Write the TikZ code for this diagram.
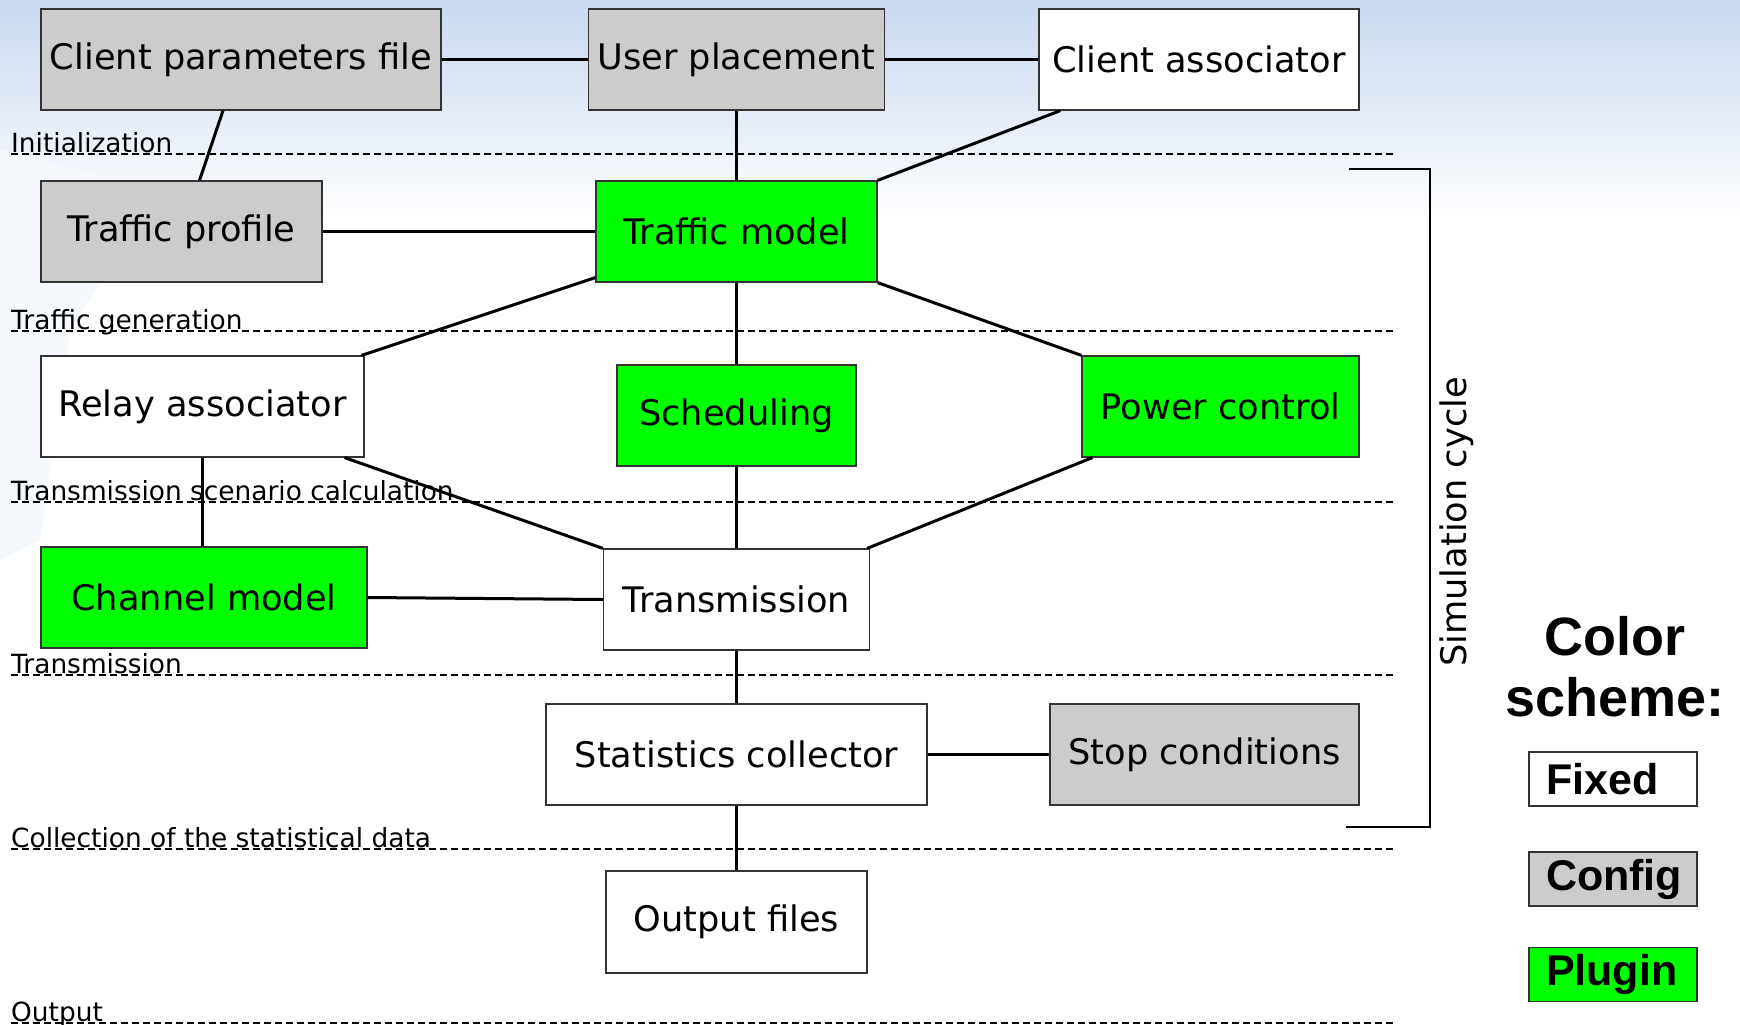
\documentclass[tikz,border=0pt]{standalone}
\usepackage{fontspec}
\setmainfont{DejaVu Sans}
\newfontfamily\legendfont{Liberation Sans}
\usetikzlibrary{calc}

\definecolor{cfggray}{HTML}{CCCCCC}
\definecolor{plugreen}{HTML}{00FF00}
\definecolor{skyblue}{RGB}{200,216,239}

\tikzset{
    block/.style={draw=black!80, line width=1.2pt, fill=white, minimum height=101pt,
        inner sep=0pt, font=\fontsize{35.2}{40}\selectfont},
    fixedbox/.style={block},
    configbox/.style={block, fill=cfggray},
    pluginbox/.style={block, fill=plugreen},
    link/.style={line width=3pt},
    stage/.style={line width=1.4pt, dash pattern=on 7pt off 4pt},
    stagename/.style={anchor=base west, inner sep=0pt, font=\fontsize{26.4}{30}\selectfont},
    keytitle/.style={anchor=base, inner sep=0pt, font=\legendfont\bfseries\fontsize{54}{61}\selectfont},
    keybox/.style={draw=black!80, line width=1.2pt, minimum width=168pt, minimum height=54pt,
        inner sep=0pt, text width=134pt, align=left,
        font=\legendfont\bfseries\fontsize{43}{48}\selectfont}
}

\begin{document}
\begin{tikzpicture}[x=1pt, y=-1pt]
    \useasboundingbox (0,0) rectangle (1740,1025);
    % background
    \fill[white] (0,0) rectangle (1740,1025);
    \shade[top color=skyblue, bottom color=white] (0,0) rectangle (1740,220);
    \fill[skyblue!18] (0,150) -- (160,190) -- (70,330) -- (40,540) -- (0,560) -- cycle;

    % simulation stages
    \foreach \ypos/\stagetext in {154/Initialization, 331/Traffic generation,
            502/Transmission scenario calculation, 675/Transmission,
            849/Collection of the statistical data, 1023/Output} {
        \draw[stage] (11,\ypos) -- (1394,\ypos);
        \node[stagename] at (11,\ypos-2) {\stagetext};
    }

    % blocks
    \node[configbox, minimum width=400pt] (cpf) at (241,59.5) {Client parameters file};
    \node[configbox, minimum width=296pt] (up) at (736.5,59.5) {User placement};
    \node[fixedbox, minimum width=320pt] (ca) at (1199,59.5) {Client associator};
    \node[configbox, minimum width=281pt] (tp) at (181.5,231.5) {Traffic profile};
    \node[pluginbox, minimum width=281pt] (tm) at (736.5,231.5) {Traffic model};
    \node[fixedbox, minimum width=323pt] (ra) at (202.5,406.5) {Relay associator};
    \node[pluginbox, minimum width=239pt] (sch) at (736.5,415.5) {Scheduling};
    \node[pluginbox, minimum width=277pt] (pc) at (1220.5,406.5) {Power control};
    \node[pluginbox, minimum width=326pt] (cm) at (204,597.5) {Channel model};
    \node[fixedbox, minimum width=266pt] (tx) at (736.5,599.5) {Transmission};
    \node[fixedbox, minimum width=381pt] (sc) at (736.5,754.5) {Statistics collector};
    \node[configbox, minimum width=309pt] (stop) at (1204.5,754.5) {Stop conditions};
    \node[fixedbox, minimum width=261pt, minimum height=102pt] (out) at (736.5,922) {Output files};

    % links
    \draw[link] (cpf) -- (up);
    \draw[link] (up) -- (ca);
    \draw[link] ($(cpf.south)+(-18,0)$) -- ($(tp.north)+(18,0)$);
    \draw[link] (up.south) -- (tm.north);
    \draw[link] ($(ca.south west)+(22,0)$) -- (tm.north east);
    \draw[link] (tp) -- (tm);
    \draw[link] ($(tm.south west)+(0,-5)$) -- ($(ra.north east)+(-3,0)$);
    \draw[link] (tm.south) -- (sch.north);
    \draw[link] (tm.south east) -- (pc.north west);
    \draw[link] (ra.south) -- (ra.south |- cm.north);
    \draw[link] ($(ra.south east)+(-20,0)$) -- (tx.north west);
    \draw[link] (sch.south) -- (tx.north);
    \draw[link] ($(pc.south west)+(11,0)$) -- ($(tx.north east)+(-3,0)$);
    \draw[link] (cm.east) -- (tx.west);
    \draw[link] (tx.south) -- (sc.north);
    \draw[link] (sc) -- (stop);
    \draw[link] (sc.south) -- (out.north);

    % simulation cycle bracket
    \draw[line width=2.5pt] (1349,169) -- (1430,169) -- (1430,827) -- (1346,827);
    \node[rotate=90, inner sep=0pt, font=\fontsize{35.2}{40}\selectfont] (cycle) at (1457,522) {Simulation cycle};

    % color scheme
    \node[keytitle] (keya) at (1615,655) {Color};
    \node[keytitle] (keyb) at (1615,716) {scheme:};
    \node[keybox, fill=white] (kfixed) at (1613,779) {Fixed};
    \node[keybox, fill=cfggray] (kconfig) at (1613,879) {Config};
    \node[keybox, fill=plugreen] (kplugin) at (1613,974.5) {Plugin};
\end{tikzpicture}
\end{document}
